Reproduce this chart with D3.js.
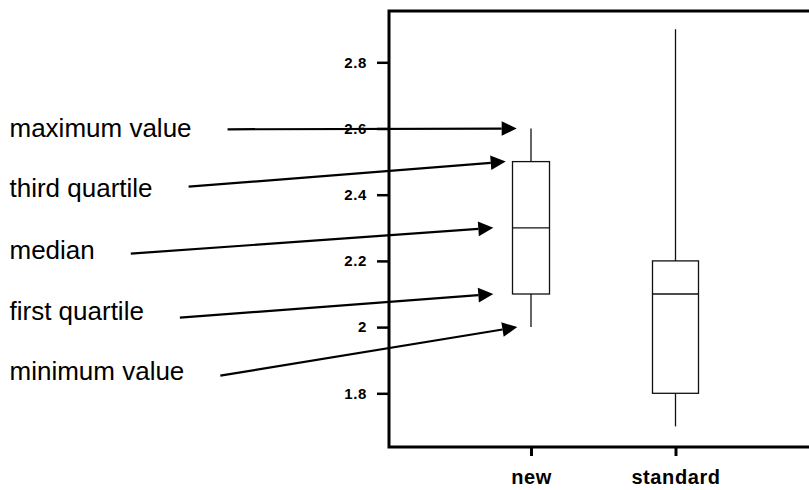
<!DOCTYPE html>
<html>
<head>
<meta charset="utf-8">
<script src="https://cdn.jsdelivr.net/npm/d3@7"></script>
<style>
  html, body { margin: 0; padding: 0; background: #fff; }
  svg { display: block; }
</style>
</head>
<body>
<svg id="chart" width="809" height="490"></svg>
<script>
// ---- data ----
const categories = ["new", "standard"];
const minValues = [2.0, 1.7];
const q1Values = [2.1, 1.8];
const medianValues = [2.3, 2.1];
const q3Values = [2.5, 2.2];
const maxValues = [2.6, 2.9];
const yTickValues = [1.8, 2.0, 2.2, 2.4, 2.6, 2.8];
const yTickLabels = ["1.8", "2", "2.2", "2.4", "2.6", "2.8"];
const annotationLabels = ["maximum value", "third quartile", "median", "first quartile", "minimum value"];
const annotationTargets = [2.6, 2.5, 2.3, 2.1, 2.0]; // values on "new"

// ---- layout ----
const svg = d3.select("#chart");
const frame = { left: 389, top: 11, bottom: 447, right: 840 };
const y = d3.scaleLinear().domain([1.8, 2.8]).range([393.3, 62.3]);
const x = d3.scalePoint().domain(categories).range([531, 675.5]);
const boxWidth = { "new": 37, "standard": 46 };

const boxes = categories.map((c, i) => ({
  cat: c, min: minValues[i], q1: q1Values[i], med: medianValues[i], q3: q3Values[i], max: maxValues[i]
}));

// boxes
const g = svg.append("g");
boxes.forEach(b => {
  const cx = x(b.cat), w = boxWidth[b.cat];
  g.append("line").attr("x1", cx).attr("x2", cx).attr("y1", y(b.max)).attr("y2", y(b.q3))
    .attr("stroke", "#111").attr("stroke-width", 1.3);
  g.append("line").attr("x1", cx).attr("x2", cx).attr("y1", y(b.q1)).attr("y2", y(b.min))
    .attr("stroke", "#111").attr("stroke-width", 1.3);
  g.append("rect").attr("x", cx - w / 2).attr("y", y(b.q3)).attr("width", w).attr("height", y(b.q1) - y(b.q3))
    .attr("fill", "none").attr("stroke", "#111").attr("stroke-width", 1.3);
  g.append("line").attr("x1", cx - w / 2).attr("x2", cx + w / 2).attr("y1", y(b.med)).attr("y2", y(b.med))
    .attr("stroke", "#111").attr("stroke-width", 1.3);
});

// frame
svg.append("path")
  .attr("d", `M${frame.right},${frame.top}H${frame.left}V${frame.bottom}H${frame.right}`)
  .attr("fill", "none").attr("stroke", "#000").attr("stroke-width", 3);

// y axis
const yAxis = svg.append("g").attr("transform", `translate(${frame.left},0)`)
  .call(d3.axisLeft(y).tickValues(yTickValues).tickSize(12).tickPadding(10)
    .tickFormat((d, i) => yTickLabels[i]));
yAxis.select(".domain").remove();
yAxis.selectAll(".tick line").attr("stroke", "#000").attr("stroke-width", 2.5);
yAxis.selectAll(".tick text")
  .attr("font-family", "Liberation Sans, Arial, sans-serif")
  .attr("font-weight", "bold").attr("font-size", 15).attr("fill", "#000")
  .attr("letter-spacing", "0.6");

// x axis
const xAxis = svg.append("g").attr("transform", `translate(0,${frame.bottom})`)
  .call(d3.axisBottom(x).tickSize(9).tickPadding(14));
xAxis.select(".domain").remove();
xAxis.selectAll(".tick line").attr("stroke", "#000").attr("stroke-width", 3);
xAxis.selectAll(".tick text")
  .attr("font-family", "Liberation Sans, Arial, sans-serif")
  .attr("font-weight", "bold").attr("font-size", 20).attr("fill", "#000")
  .attr("letter-spacing", "0.6");

// annotations
const annoBaseline = [137, 196.5, 259, 319.5, 380];
const annoStartY = [129.3, 186.7, 253.7, 317.7, 375.7];
const annoTipX = [516.7, 505.7, 493.3, 493.3, 517.3];
const headLen = 15, headHalf = 7.3;
const ag = svg.append("g");
annotationLabels.forEach((lab, i) => {
  const t = ag.append("text").attr("x", 9.5).attr("y", annoBaseline[i])
    .attr("font-family", "Liberation Sans, Arial, sans-serif")
    .attr("font-size", 26).attr("fill", "#000").text(lab);
  const endText = 9.5 + t.node().getComputedTextLength();
  const x0 = endText + 36, y0 = annoStartY[i];
  const x1 = annoTipX[i], y1 = y(annotationTargets[i]);
  const ang = Math.atan2(y1 - y0, x1 - x0);
  const bx = x1 - headLen * Math.cos(ang), by = y1 - headLen * Math.sin(ang);
  ag.append("line").attr("x1", x0).attr("y1", y0).attr("x2", bx).attr("y2", by)
    .attr("stroke", "#000").attr("stroke-width", 2.2);
  const px = -Math.sin(ang) * headHalf, py = Math.cos(ang) * headHalf;
  ag.append("path")
    .attr("d", `M${x1},${y1}L${bx + px},${by + py}L${bx - px},${by - py}Z`)
    .attr("fill", "#000");
});
</script>
</body>
</html>
